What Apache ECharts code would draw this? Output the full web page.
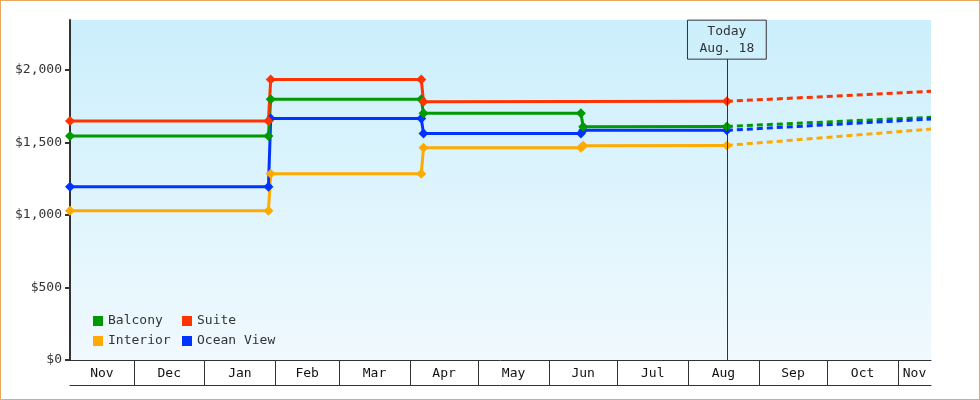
<!DOCTYPE html>
<html lang="en">
  <head>
    <meta charset="UTF-8" />
    <title>Cabin prices</title>
    <script src="https://cdn.jsdelivr.net/npm/echarts@6/dist/echarts.min.js"></script>
    <style>
      html, body { margin: 0; padding: 0; background: #fff; }
      #chart { width: 980px; height: 400px; box-sizing: border-box; border: 1px solid #e8a860; }
    </style>
  </head>
  <body>
    <div id="chart"></div>
  </body>
  <script>
    // axis range and "today"
    const rangeStart = '2022-11-03'
    const rangeEnd = '2023-11-15 12:00'
    const today = '2023-08-18'
    const todayLabel = 'Today\nAug. 18'
    const forecastEnd = '2023-11-15 12:00'

    // price change dates (old price on the first day, new price the next day)
    const dates = ['2022-11-03', '2023-01-29', '2023-01-30', '2023-04-06', '2023-04-07', '2023-06-15', '2023-06-16', today]

    const balcony = [1545, 1545, 1798, 1798, 1701, 1701, 1609, 1611]
    const suite = [1649, 1649, 1934, 1934, 1782, null, null, 1784]
    const interior = [1029, 1029, 1284, 1284, 1464, 1464, 1478, 1480]
    const oceanView = [1195, 1195, 1665, 1665, 1563, 1563, 1584, 1584]

    // dashed forecast end values
    const balconyForecast = 1674
    const suiteForecast = 1853
    const interiorForecast = 1593
    const oceanViewForecast = 1662

    const monthNames = ['Jan', 'Feb', 'Mar', 'Apr', 'May', 'Jun', 'Jul', 'Aug', 'Sep', 'Oct', 'Nov', 'Dec']
    const yTicks = [0, 500, 1000, 1500, 2000]

    const colors = {
      Balcony: '#009900',
      Suite: '#ff3300',
      Interior: '#ffaa00',
      'Ocean View': '#0033ff'
    }
    const font = 'DejaVu Sans Mono'

    const ts = s => +new Date(s)
    const minT = ts(rangeStart)
    const maxT = ts(rangeEnd)
    const todayT = ts(today)

    // month boundaries and label positions (centre of each visible month cell)
    const monthStarts = []
    const labelCenters = []
    const labelNames = {}
    const first = new Date(rangeStart)
    let cur = new Date(first.getFullYear(), first.getMonth(), 1)
    while (+cur < maxT) {
      const next = new Date(cur.getFullYear(), cur.getMonth() + 1, 1)
      const a = Math.max(+cur, minT)
      const b = Math.min(+next, maxT)
      const c = Math.round((a + b) / 2)
      labelCenters.push(c)
      labelNames[c] = monthNames[cur.getMonth()]
      if (+cur > minT) monthStarts.push(+cur)
      cur = next
    }

    function pairs(values) {
      const out = []
      for (let i = 0; i < dates.length; i++) {
        if (values[i] !== null) out.push([ts(dates[i]), values[i]])
      }
      return out
    }

    function solid(name, values) {
      return {
        name: name,
        type: 'line',
        data: pairs(values),
        symbol: 'diamond',
        symbolSize: 10,
        showSymbol: true,
        clip: false,
        lineStyle: { width: 3, color: colors[name] },
        itemStyle: { color: colors[name] },
        z: 3
      }
    }

    function forecast(name, last, endValue) {
      return {
        name: name,
        type: 'line',
        data: [[todayT, last], [ts(forecastEnd), endValue]],
        symbol: 'none',
        lineStyle: { width: 3, type: [6, 4], color: colors[name] },
        itemStyle: { color: colors[name] },
        z: 2
      }
    }

    const chart = echarts.init(document.getElementById('chart'))

    const series = [
      forecast('Balcony', balcony[balcony.length - 1], balconyForecast),
      forecast('Ocean View', oceanView[oceanView.length - 1], oceanViewForecast),
      forecast('Interior', interior[interior.length - 1], interiorForecast),
      forecast('Suite', suite[suite.length - 1], suiteForecast),
      solid('Interior', interior),
      solid('Ocean View', oceanView),
      solid('Balcony', balcony),
      solid('Suite', suite)
    ]

    // today marker with its label box
    series.push({
      type: 'line',
      data: [],
      silent: true,
      markLine: {
        symbol: 'none',
        silent: true,
        animation: false,
        lineStyle: { color: '#333', width: 1, type: 'solid' },
        label: {
          show: true,
          position: 'end',
          distance: 0,
          formatter: todayLabel,
          fontFamily: font,
          fontSize: 13,
          lineHeight: 17,
          color: '#333',
          borderColor: '#333',
          borderWidth: 1,
          padding: [3, 12, 2, 12],
          align: 'center'
        },
        data: [[{ coord: [todayT, 0] }, { coord: [todayT, 2075] }]]
      }
    })

    const legendText = { fontFamily: font, fontSize: 13, color: '#333', width: 68, lineHeight: 14 }

    const axisCommon = {
      type: 'value',
      min: minT,
      max: maxT,
      position: 'bottom',
      splitLine: { show: false }
    }

    chart.setOption({
      animation: false,
      grid: {
        left: 69,
        right: 48,
        top: 19,
        bottom: 39,
        show: true,
        borderWidth: 0,
        backgroundColor: new echarts.graphic.LinearGradient(0, 0, 0, 1, [
          { offset: 0, color: '#cbeffc' },
          { offset: 1, color: '#f0f9fe' }
        ])
      },
      legend: {
        data: ['Balcony', 'Suite', 'Interior', 'Ocean View'],
        left: 92,
        top: 313,
        width: 185,
        orient: 'horizontal',
        itemWidth: 10,
        itemHeight: 10,
        itemGap: 6,
        padding: 0,
        icon: 'rect',
        textStyle: legendText
      },
      xAxis: [
        Object.assign({}, axisCommon, {
          axisLine: { show: true, lineStyle: { color: '#333', width: 1 } },
          axisTick: {
            show: true,
            inside: false,
            length: 25,
            customValues: monthStarts,
            lineStyle: { color: '#333', width: 1 }
          },
          axisLabel: {
            customValues: labelCenters,
            formatter: v => labelNames[v] || '',
            fontFamily: font,
            fontSize: 13,
            color: '#111',
            margin: 7
          }
        }),
        Object.assign({}, axisCommon, {
          offset: 25,
          axisLine: { show: true, lineStyle: { color: '#333', width: 1 } },
          axisTick: { show: false },
          axisLabel: { show: false }
        })
      ],
      yAxis: {
        type: 'value',
        min: 0,
        max: 2345,
        axisLine: { show: true, lineStyle: { color: '#333', width: 2 } },
        axisTick: { show: true, length: 5, customValues: yTicks, lineStyle: { color: '#333', width: 2 } },
        axisLabel: {
          customValues: yTicks,
          formatter: v => '$' + v.toLocaleString('en-US'),
          fontFamily: font,
          fontSize: 13,
          color: '#333',
          margin: 8
        },
        splitLine: { show: false }
      },
      series: series
    })
  </script>
</html>
